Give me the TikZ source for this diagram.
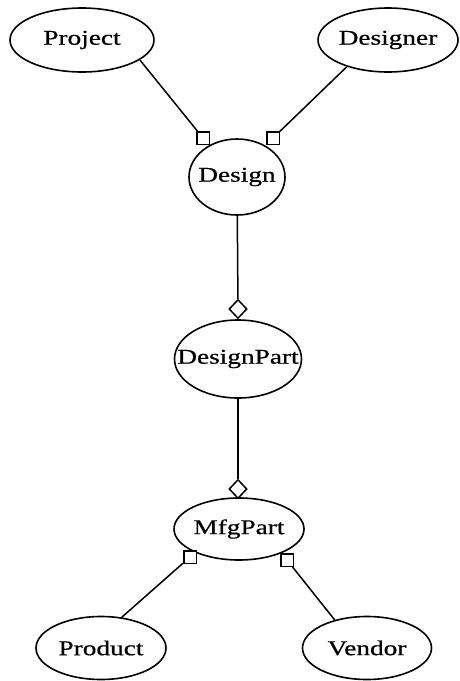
\documentclass[tikz,border=0pt]{standalone}
\usepackage{fontspec}
\setmainfont{Liberation Serif}
\newfontfamily\lblfont[FakeStretch=1.3,FakeBold=0.6]{Liberation Serif}
\usetikzlibrary{shapes.geometric}
\newcommand{\lbl}[1]{\makebox[0pt][c]{#1}}
\tikzset{
  ent/.style={ellipse, draw, line width=1.6pt, inner sep=0pt, font=\lblfont\fontsize{21}{24}\selectfont},
  sq/.style={rectangle, draw, fill=white, line width=1.5pt, minimum size=12.5pt, inner sep=0pt},
  dia/.style={diamond, draw, fill=white, line width=1.5pt, minimum width=18pt, minimum height=19pt, inner sep=0pt},
  link/.style={line width=1.5pt}
}
\begin{document}
\begin{tikzpicture}[x=1pt,y=-1pt]
\useasboundingbox (0,0) rectangle (460,681);
\node[ent, minimum width=144pt, minimum height=64pt] (proj) at (82,40) {\lbl{Project}};
\node[ent, minimum width=140pt, minimum height=64pt] (desr) at (388,40) {\lbl{Designer}};
\node[ent, minimum width=96pt, minimum height=76pt] (des) at (237,177) {\lbl{Design}};
\node[ent, minimum width=127pt, minimum height=78pt] (dp) at (238,359) {\lbl{DesignPart}};
\node[ent, minimum width=130pt, minimum height=62pt] (mp) at (239,529) {\lbl{MfgPart}};
\node[ent, minimum width=130pt, minimum height=63pt] (prod) at (101,648) {\lbl{Product}};
\node[ent, minimum width=129pt, minimum height=63pt] (vend) at (367,648) {\lbl{Vendor}};
\node[sq] (s1) at (203,138) {};
\node[sq] (s2) at (273,138) {};
\node[sq] (s3) at (190,557) {};
\node[sq] (s4) at (287,560) {};
\node[dia] (d1) at (238,309) {};
\node[dia] (d2) at (238,489) {};
\draw[link] (proj.-19) -- (s1);
\draw[link] (desr.213) -- (s2);
\draw[link] (des) -- (d1);
\draw[link] (dp) -- (d2);
\draw[link] (s3) -- (prod.56);
\draw[link] (s4) -- (vend.139);
\end{tikzpicture}
\end{document}
